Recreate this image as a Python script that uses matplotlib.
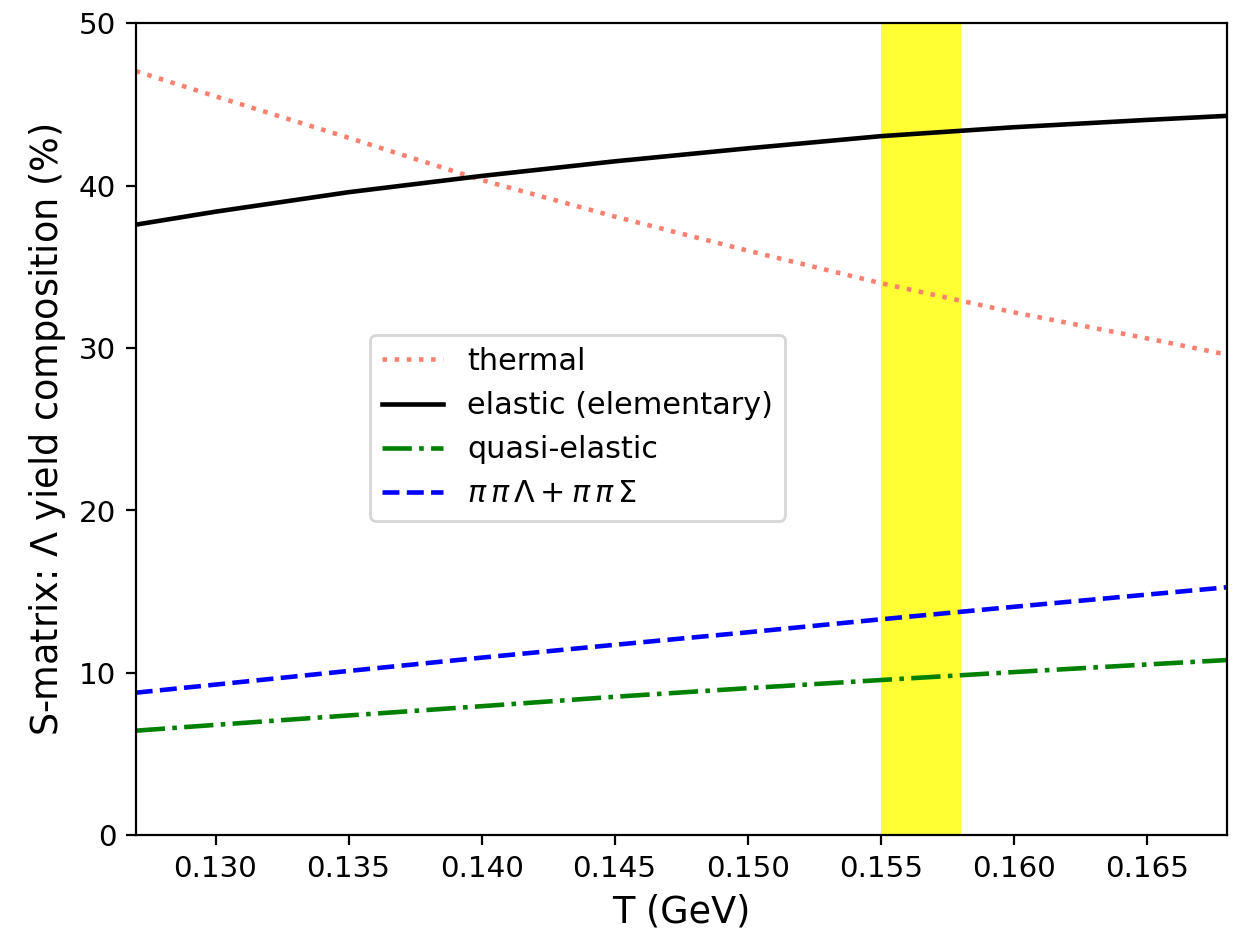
import matplotlib
matplotlib.use('Agg')
import matplotlib.pyplot as plt

# temperature grid (GeV)
T = [0.127, 0.130, 0.135, 0.140, 0.145, 0.150, 0.155, 0.160, 0.165, 0.168]

# yield composition (%)
thermal = [47.06, 45.5, 42.95, 40.35, 38.1, 36.0, 34.0, 32.2, 30.6, 29.6]
elastic = [37.6, 38.4, 39.6, 40.6, 41.5, 42.3, 43.05, 43.6, 44.05, 44.3]
quasi_elastic = [6.44, 6.80, 7.38, 7.95, 8.53, 9.06, 9.56, 10.05, 10.52, 10.79]
pipi = [8.78, 9.28, 10.12, 10.94, 11.73, 12.5, 13.3, 14.07, 14.82, 15.27]

# pseudo-critical temperature band
band = (0.155, 0.158)

fig = plt.figure(figsize=(1245 / 200, 935 / 200), dpi=200)
ax = fig.add_axes([135.7 / 1245, 99.7 / 935, 1091 / 1245, 812 / 935])

lw = 1.65
ax.axvspan(band[0], band[1], color='yellow', alpha=0.8, lw=0)
ax.plot(T, thermal, ':', color='salmon', lw=lw, label='thermal')
ax.plot(T, elastic, '-', color='black', lw=lw, label='elastic (elementary)')
ax.plot(T, quasi_elastic, '-.', color='green', lw=lw, label='quasi-elastic')
ax.plot(T, pipi, '--', color='blue', lw=lw,
        label=r'$\pi\,\pi\,\Lambda + \pi\,\pi\,\Sigma$')

ax.set_xlim(0.127, 0.168)
ax.set_ylim(0, 50)
ax.set_xticks([0.130, 0.135, 0.140, 0.145, 0.150, 0.155, 0.160, 0.165])
ax.tick_params(labelsize=10.6)
ax.set_xlabel('T (GeV)', fontsize=13.2)
ax.set_ylabel(r'S-matrix: $\Lambda$ yield composition (%)', fontsize=13.2)

ax.legend(loc='lower left', bbox_to_anchor=(0.201, 0.369), fontsize=10.9)

fig.savefig('out.png', dpi=200)
